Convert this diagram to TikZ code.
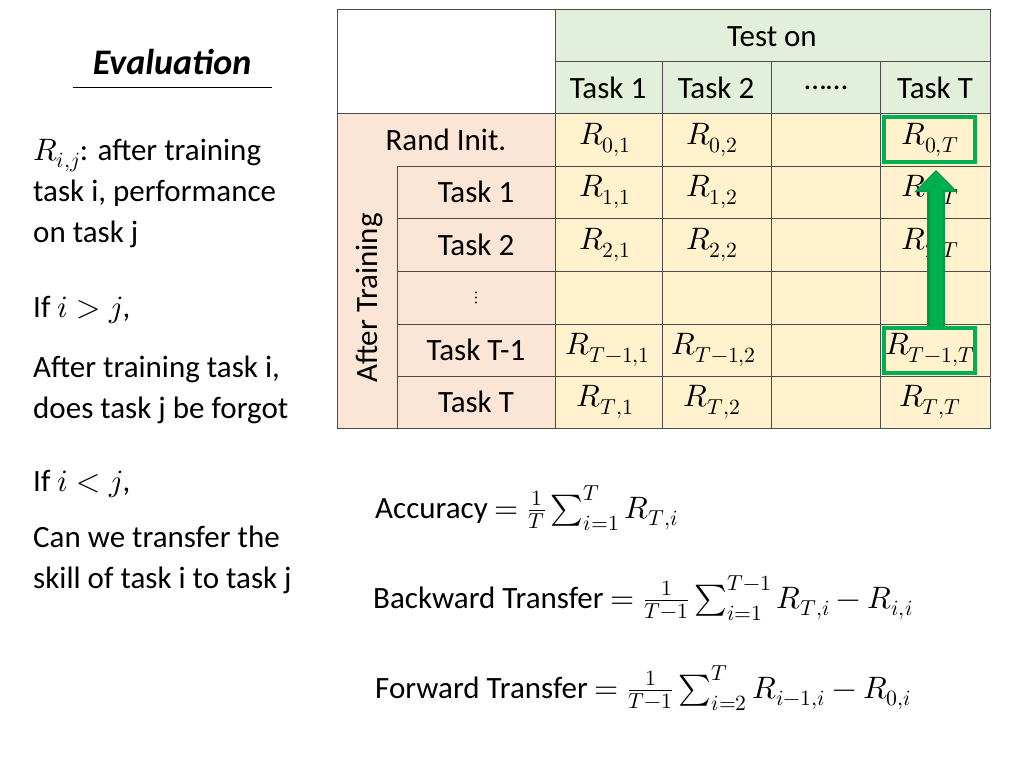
\documentclass[tikz,border=0pt]{standalone}
\usepackage{amsmath}
\usepackage{unicode-math}
\setmainfont{Carlito}
\setmathfont{Latin Modern Math}
\usetikzlibrary{arrows.meta}
\definecolor{hdrgreen}{HTML}{E2EFDA}
\definecolor{rowpink}{HTML}{FBE5D6}
\definecolor{cellyellow}{HTML}{FFF2CC}
\definecolor{boxgreen}{HTML}{00B050}
\tikzset{
  txt/.style={font=\fontsize{31}{41}\selectfont, inner sep=0pt},
  lefttxt/.style={txt, anchor=west, align=left},
  cellline/.style={draw=black!70, line width=1pt},
  markbox/.style={draw=boxgreen, line width=4pt}
}
\begin{document}
\begin{tikzpicture}[x=1pt,y=-1pt]
    \useasboundingbox (0,0) rectangle (1024,768);
    %cell backgrounds
    \fill[hdrgreen] (555,10) rectangle (990,113);
    \fill[rowpink] (337,113) rectangle (555,428);
    \fill[cellyellow] (555,113) rectangle (990,428);
    %grid lines
    \draw[cellline] (337,10) rectangle (990,428);
    \draw[cellline] (555,10) -- (555,428);
    \draw[cellline] (555,61) -- (990,61);
    \foreach \x in {662,771,880} \draw[cellline] (\x,61) -- (\x,428);
    \draw[cellline] (337,113) -- (990,113);
    \draw[cellline] (397,166) -- (397,428);
    \foreach \y in {166,218,271,324,376} \draw[cellline] (397,\y) -- (990,\y);
    %headers
    \node[txt] (teston) at (772,37) {Test on};
    \node[txt] (h1) at (608,88) {Task 1};
    \node[txt] (h2) at (716,88) {Task 2};
    \node[txt] (h3) at (826,88) {\textellipsis\textellipsis};
    \node[txt] (h4) at (935,88) {Task T};
    \node[txt] (rand) at (446,140) {Rand Init.};
    \node[txt, rotate=90] (after) at (369,298) {After Training};
    \node[txt] (t1) at (476,192) {Task 1};
    \node[txt] (t2) at (476,245) {Task 2};
    \node[txt, font=\fontsize{18}{20}\selectfont] (tdots) at (476,298) {$\vdots$};
    \node[txt] (tm1) at (476,350) {Task T-1};
    \node[txt] (tT) at (476,402) {Task T};
    %entries
    \node[txt] (r01) at (605,140) {$R_{0,1}$};
    \node[txt] (r02) at (712,140) {$R_{0,2}$};
    \node[txt] (r0T) at (930,140) {$R_{0,T}$};
    \node[txt] (r11) at (605,192) {$R_{1,1}$};
    \node[txt] (r12) at (712,192) {$R_{1,2}$};
    \node[txt] (r1T) at (930,192) {$R_{1,T}$};
    \node[txt] (r21) at (605,245) {$R_{2,1}$};
    \node[txt] (r22) at (712,245) {$R_{2,2}$};
    \node[txt] (r2T) at (930,245) {$R_{2,T}$};
    \node[txt] (rm1) at (608,350) {$R_{T-1,1}$};
    \node[txt] (rm2) at (714,350) {$R_{T-1,2}$};
    \node[txt] (rmT) at (930,350) {$R_{T-1,T}$};
    \node[txt] (rT1) at (605,402) {$R_{T,1}$};
    \node[txt] (rT2) at (712,402) {$R_{T,2}$};
    \node[txt] (rTT) at (930,402) {$R_{T,T}$};
    %green marks
    \draw[markbox] (884,117) rectangle (975,162);
    \draw[markbox] (884,328) rectangle (975,373);
    \coordinate (arrfrom) at (936,326);
    \coordinate (arrto) at (936,170);
    \draw[-{Triangle[length=22pt,width=42pt]}, line width=18pt, boxgreen!85!black] (arrfrom) -- (arrto);
    \draw[-{Triangle[length=19pt,width=36pt]}, line width=13pt, boxgreen, shorten >=1.5pt] (arrfrom) -- (arrto);
    %left column
    \node[txt, font=\fontsize{36}{42}\selectfont\bfseries\itshape] (title) at (172,62) {Evaluation};
    \draw[line width=1pt] (73,87) -- (272,87);
    \node[lefttxt] (def) at (33,193) {$R_{i,j}$: after training\\task i, performance\\on task j};
    \node[lefttxt] (ifg) at (33,310) {If $i>j$,};
    \node[lefttxt] (forgot) at (33,390) {After training task i,\\does task j be forgot};
    \node[lefttxt] (ifl) at (33,484) {If $i<j$,};
    \node[lefttxt] (transfer) at (33,560) {Can we transfer the\\skill of task i to task j};
    %formulas
    \node[lefttxt] (acc) at (375,508) {Accuracy $=\frac{1}{T}\sum_{i=1}^{T} R_{T,i}$};
    \node[lefttxt] (bwt) at (373,598) {Backward Transfer $=\frac{1}{T-1}\sum_{i=1}^{T-1} R_{T,i}-R_{i,i}$};
    \node[lefttxt] (fwt) at (375,688) {Forward Transfer $=\frac{1}{T-1}\sum_{i=2}^{T} R_{i-1,i}-R_{0,i}$};
\end{tikzpicture}
\end{document}
